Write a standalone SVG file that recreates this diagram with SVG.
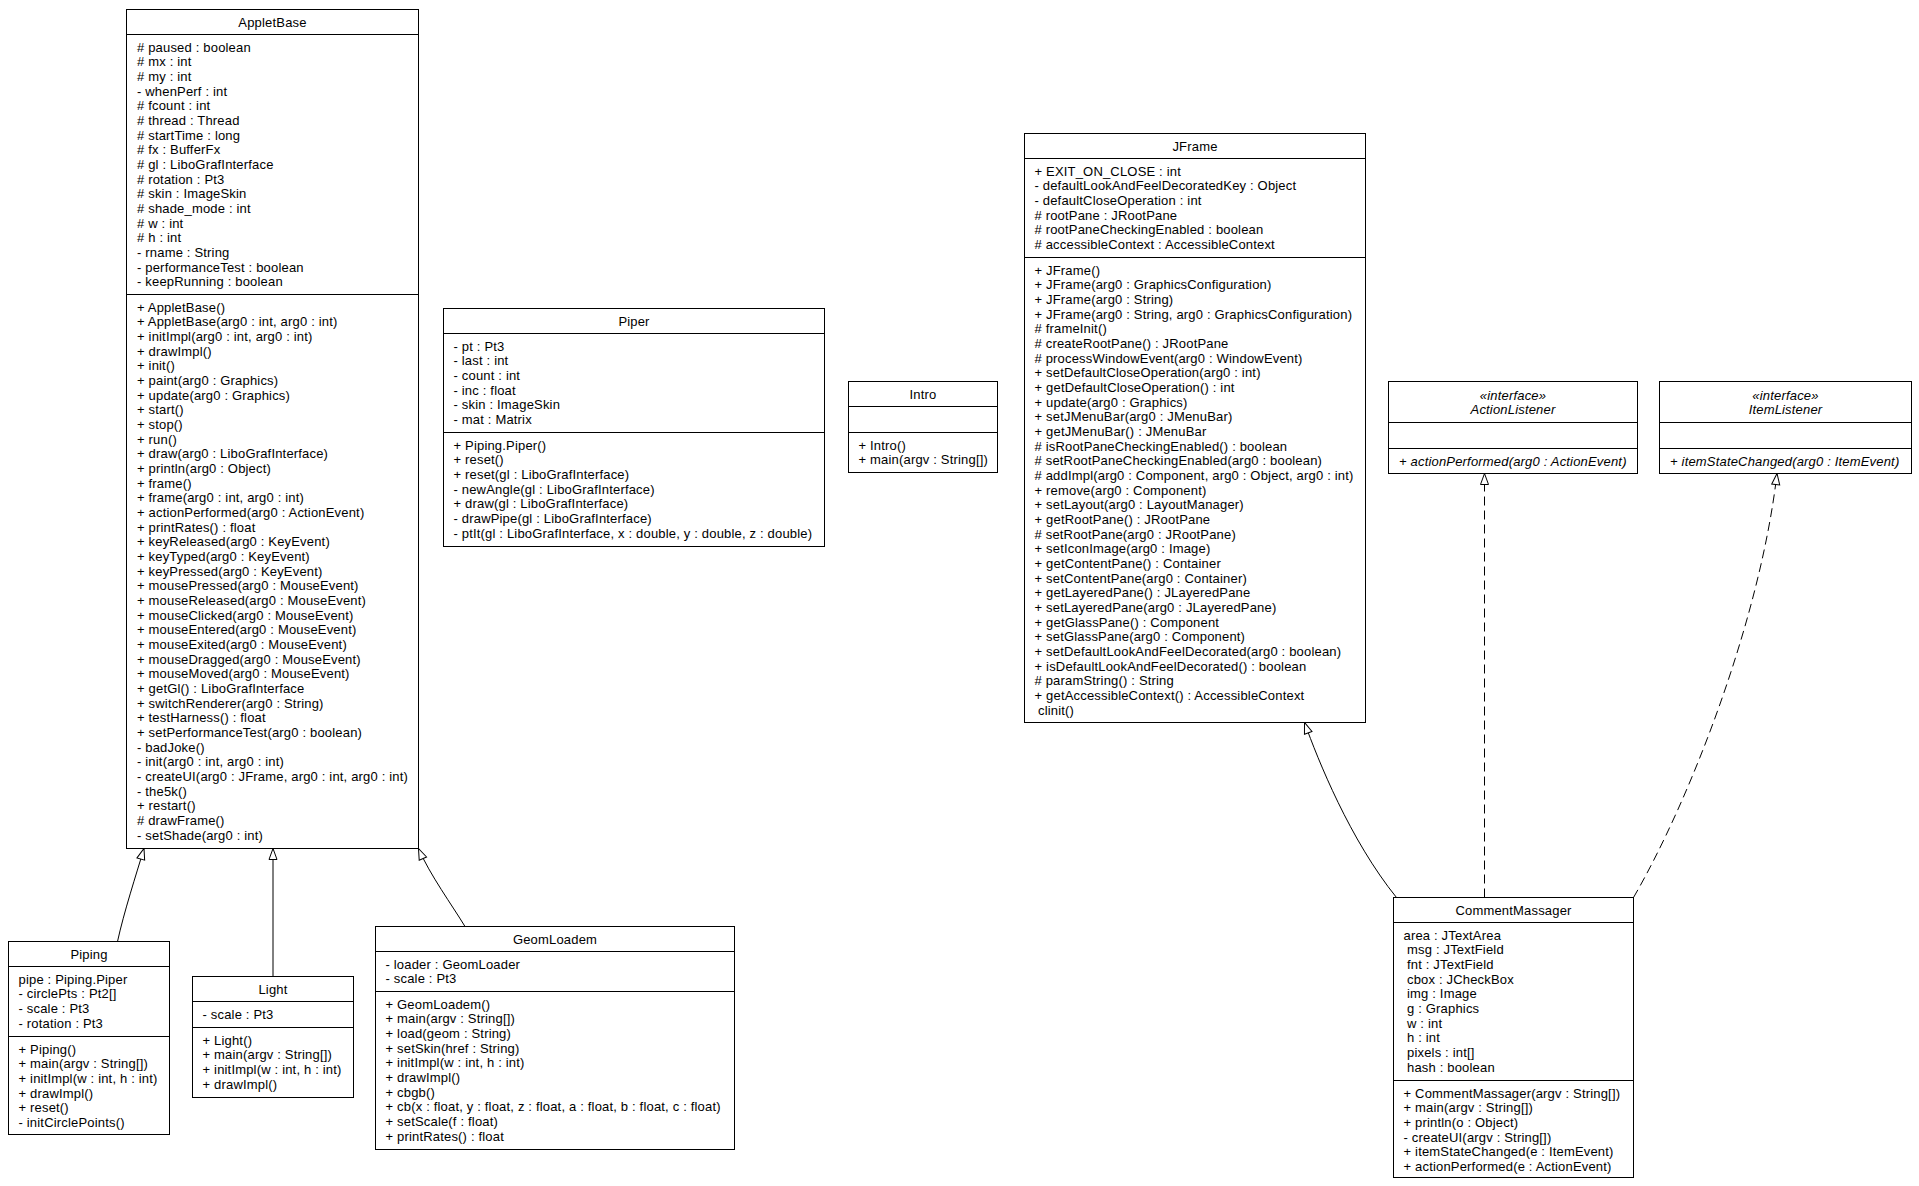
<svg xmlns="http://www.w3.org/2000/svg" width="1919" height="1186" viewBox="0 0 1919 1186">
<style>
text{font-family:"Liberation Sans",Arial,Helvetica,sans-serif;font-size:13px;fill:#000;letter-spacing:0.18px}
.c{text-anchor:middle}
.i{font-style:italic}
.box{fill:#fff;stroke:#000;stroke-width:1}
.sep{stroke:#000;stroke-width:1}
.edge{fill:none;stroke:#000;stroke-width:1}
.dash{stroke-dasharray:9,5}
</style>
<defs>
<marker id="gen" markerUnits="userSpaceOnUse" markerWidth="16" markerHeight="12" refX="12" refY="5" orient="auto" overflow="visible">
<path d="M1,1 L12,5 L1,9 Z" fill="#fff" stroke="#000" stroke-width="1" stroke-dasharray="none"/>
</marker>
</defs>
<rect width="1919" height="1186" fill="#fff"/>

<g id="connectors">
<path class="edge" d="M117.5,941.5 C124,912 136,875 144,848.5" marker-end="url(#gen)"/>
<path class="edge" d="M273,976.5 L273,848.5" marker-end="url(#gen)"/>
<path class="edge" d="M465,926.5 C452,905 430,875 418.5,848.5" marker-end="url(#gen)"/>
<path class="edge" d="M1396.5,897.5 C1350,840 1318,760 1304.5,722.5" marker-end="url(#gen)"/>
<path class="edge dash" d="M1484.5,897.5 L1484.5,473.5" marker-end="url(#gen)"/>
<path class="edge dash" d="M1633.5,897.5 C1690,800 1760,620 1777,473.5" marker-end="url(#gen)"/>
</g>

<g id="AppletBase">
<rect class="box" x="126.5" y="9.5" width="292" height="839"/>
<line class="sep" x1="126.5" y1="34.5" x2="418.5" y2="34.5"/>
<line class="sep" x1="126.5" y1="294.5" x2="418.5" y2="294.5"/>
<text class="c" x="272.5" y="26.8">AppletBase</text>
<text y="37.14">
<tspan x="137" dy="14.66"># paused : boolean</tspan>
<tspan x="137" dy="14.66"># mx : int</tspan>
<tspan x="137" dy="14.66"># my : int</tspan>
<tspan x="137" dy="14.66">- whenPerf : int</tspan>
<tspan x="137" dy="14.66"># fcount : int</tspan>
<tspan x="137" dy="14.66"># thread : Thread</tspan>
<tspan x="137" dy="14.66"># startTime : long</tspan>
<tspan x="137" dy="14.66"># fx : BufferFx</tspan>
<tspan x="137" dy="14.66"># gl : LiboGrafInterface</tspan>
<tspan x="137" dy="14.66"># rotation : Pt3</tspan>
<tspan x="137" dy="14.66"># skin : ImageSkin</tspan>
<tspan x="137" dy="14.66"># shade_mode : int</tspan>
<tspan x="137" dy="14.66"># w : int</tspan>
<tspan x="137" dy="14.66"># h : int</tspan>
<tspan x="137" dy="14.66">- rname : String</tspan>
<tspan x="137" dy="14.66">- performanceTest : boolean</tspan>
<tspan x="137" dy="14.66">- keepRunning : boolean</tspan>
</text>
<text y="297.14">
<tspan x="137" dy="14.66">+ AppletBase()</tspan>
<tspan x="137" dy="14.66">+ AppletBase(arg0 : int, arg0 : int)</tspan>
<tspan x="137" dy="14.66">+ initImpl(arg0 : int, arg0 : int)</tspan>
<tspan x="137" dy="14.66">+ drawImpl()</tspan>
<tspan x="137" dy="14.66">+ init()</tspan>
<tspan x="137" dy="14.66">+ paint(arg0 : Graphics)</tspan>
<tspan x="137" dy="14.66">+ update(arg0 : Graphics)</tspan>
<tspan x="137" dy="14.66">+ start()</tspan>
<tspan x="137" dy="14.66">+ stop()</tspan>
<tspan x="137" dy="14.66">+ run()</tspan>
<tspan x="137" dy="14.66">+ draw(arg0 : LiboGrafInterface)</tspan>
<tspan x="137" dy="14.66">+ println(arg0 : Object)</tspan>
<tspan x="137" dy="14.66">+ frame()</tspan>
<tspan x="137" dy="14.66">+ frame(arg0 : int, arg0 : int)</tspan>
<tspan x="137" dy="14.66">+ actionPerformed(arg0 : ActionEvent)</tspan>
<tspan x="137" dy="14.66">+ printRates() : float</tspan>
<tspan x="137" dy="14.66">+ keyReleased(arg0 : KeyEvent)</tspan>
<tspan x="137" dy="14.66">+ keyTyped(arg0 : KeyEvent)</tspan>
<tspan x="137" dy="14.66">+ keyPressed(arg0 : KeyEvent)</tspan>
<tspan x="137" dy="14.66">+ mousePressed(arg0 : MouseEvent)</tspan>
<tspan x="137" dy="14.66">+ mouseReleased(arg0 : MouseEvent)</tspan>
<tspan x="137" dy="14.66">+ mouseClicked(arg0 : MouseEvent)</tspan>
<tspan x="137" dy="14.66">+ mouseEntered(arg0 : MouseEvent)</tspan>
<tspan x="137" dy="14.66">+ mouseExited(arg0 : MouseEvent)</tspan>
<tspan x="137" dy="14.66">+ mouseDragged(arg0 : MouseEvent)</tspan>
<tspan x="137" dy="14.66">+ mouseMoved(arg0 : MouseEvent)</tspan>
<tspan x="137" dy="14.66">+ getGl() : LiboGrafInterface</tspan>
<tspan x="137" dy="14.66">+ switchRenderer(arg0 : String)</tspan>
<tspan x="137" dy="14.66">+ testHarness() : float</tspan>
<tspan x="137" dy="14.66">+ setPerformanceTest(arg0 : boolean)</tspan>
<tspan x="137" dy="14.66">- badJoke()</tspan>
<tspan x="137" dy="14.66">- init(arg0 : int, arg0 : int)</tspan>
<tspan x="137" dy="14.66">- createUI(arg0 : JFrame, arg0 : int, arg0 : int)</tspan>
<tspan x="137" dy="14.66">- the5k()</tspan>
<tspan x="137" dy="14.66">+ restart()</tspan>
<tspan x="137" dy="14.66"># drawFrame()</tspan>
<tspan x="137" dy="14.66">- setShade(arg0 : int)</tspan>
</text>
</g>

<g id="Piping">
<rect class="box" x="8.5" y="941.5" width="161" height="193"/>
<line class="sep" x1="8.5" y1="966.5" x2="169.5" y2="966.5"/>
<line class="sep" x1="8.5" y1="1036.5" x2="169.5" y2="1036.5"/>
<text class="c" x="89" y="958.8">Piping</text>
<text y="969.14">
<tspan x="18.5" dy="14.66">pipe : Piping.Piper</tspan>
<tspan x="18.5" dy="14.66">- circlePts : Pt2[]</tspan>
<tspan x="18.5" dy="14.66">- scale : Pt3</tspan>
<tspan x="18.5" dy="14.66">- rotation : Pt3</tspan>
</text>
<text y="1039.14">
<tspan x="18.5" dy="14.66">+ Piping()</tspan>
<tspan x="18.5" dy="14.66">+ main(argv : String[])</tspan>
<tspan x="18.5" dy="14.66">+ initImpl(w : int, h : int)</tspan>
<tspan x="18.5" dy="14.66">+ drawImpl()</tspan>
<tspan x="18.5" dy="14.66">+ reset()</tspan>
<tspan x="18.5" dy="14.66">- initCirclePoints()</tspan>
</text>
</g>

<g id="Light">
<rect class="box" x="192.5" y="976.5" width="161" height="121"/>
<line class="sep" x1="192.5" y1="1001.5" x2="353.5" y2="1001.5"/>
<line class="sep" x1="192.5" y1="1027.5" x2="353.5" y2="1027.5"/>
<text class="c" x="273" y="993.8">Light</text>
<text x="202.5" y="1018.8">- scale : Pt3</text>
<text y="1030.14">
<tspan x="202.5" dy="14.66">+ Light()</tspan>
<tspan x="202.5" dy="14.66">+ main(argv : String[])</tspan>
<tspan x="202.5" dy="14.66">+ initImpl(w : int, h : int)</tspan>
<tspan x="202.5" dy="14.66">+ drawImpl()</tspan>
</text>
</g>

<g id="GeomLoadem">
<rect class="box" x="375.5" y="926.5" width="359" height="223"/>
<line class="sep" x1="375.5" y1="951.5" x2="734.5" y2="951.5"/>
<line class="sep" x1="375.5" y1="991.5" x2="734.5" y2="991.5"/>
<text class="c" x="555" y="943.8">GeomLoadem</text>
<text y="954.14">
<tspan x="385.5" dy="14.66">- loader : GeomLoader</tspan>
<tspan x="385.5" dy="14.66">- scale : Pt3</tspan>
</text>
<text y="994.14">
<tspan x="385.5" dy="14.66">+ GeomLoadem()</tspan>
<tspan x="385.5" dy="14.66">+ main(argv : String[])</tspan>
<tspan x="385.5" dy="14.66">+ load(geom : String)</tspan>
<tspan x="385.5" dy="14.66">+ setSkin(href : String)</tspan>
<tspan x="385.5" dy="14.66">+ initImpl(w : int, h : int)</tspan>
<tspan x="385.5" dy="14.66">+ drawImpl()</tspan>
<tspan x="385.5" dy="14.66">+ cbgb()</tspan>
<tspan x="385.5" dy="14.66">+ cb(x : float, y : float, z : float, a : float, b : float, c : float)</tspan>
<tspan x="385.5" dy="14.66">+ setScale(f : float)</tspan>
<tspan x="385.5" dy="14.66">+ printRates() : float</tspan>
</text>
</g>

<g id="Piper">
<rect class="box" x="443.5" y="308.5" width="381" height="238"/>
<line class="sep" x1="443.5" y1="333.5" x2="824.5" y2="333.5"/>
<line class="sep" x1="443.5" y1="432.5" x2="824.5" y2="432.5"/>
<text class="c" x="634" y="325.8">Piper</text>
<text y="336.14">
<tspan x="453.5" dy="14.66">- pt : Pt3</tspan>
<tspan x="453.5" dy="14.66">- last : int</tspan>
<tspan x="453.5" dy="14.66">- count : int</tspan>
<tspan x="453.5" dy="14.66">- inc : float</tspan>
<tspan x="453.5" dy="14.66">- skin : ImageSkin</tspan>
<tspan x="453.5" dy="14.66">- mat : Matrix</tspan>
</text>
<text y="435.14">
<tspan x="453.5" dy="14.66">+ Piping.Piper()</tspan>
<tspan x="453.5" dy="14.66">+ reset()</tspan>
<tspan x="453.5" dy="14.66">+ reset(gl : LiboGrafInterface)</tspan>
<tspan x="453.5" dy="14.66">- newAngle(gl : LiboGrafInterface)</tspan>
<tspan x="453.5" dy="14.66">+ draw(gl : LiboGrafInterface)</tspan>
<tspan x="453.5" dy="14.66">- drawPipe(gl : LiboGrafInterface)</tspan>
<tspan x="453.5" dy="14.66">- ptIt(gl : LiboGrafInterface, x : double, y : double, z : double)</tspan>
</text>
</g>

<g id="Intro">
<rect class="box" x="848.5" y="381.5" width="149" height="91"/>
<line class="sep" x1="848.5" y1="406.5" x2="997.5" y2="406.5"/>
<line class="sep" x1="848.5" y1="432.5" x2="997.5" y2="432.5"/>
<text class="c" x="923" y="398.8">Intro</text>
<text y="435.14">
<tspan x="858.5" dy="14.66">+ Intro()</tspan>
<tspan x="858.5" dy="14.66">+ main(argv : String[])</tspan>
</text>
</g>

<g id="JFrame">
<rect class="box" x="1024.5" y="133.5" width="341" height="589"/>
<line class="sep" x1="1024.5" y1="158.5" x2="1365.5" y2="158.5"/>
<line class="sep" x1="1024.5" y1="257.5" x2="1365.5" y2="257.5"/>
<text class="c" x="1195" y="150.8">JFrame</text>
<text y="161.14">
<tspan x="1034.5" dy="14.66">+ EXIT_ON_CLOSE : int</tspan>
<tspan x="1034.5" dy="14.66">- defaultLookAndFeelDecoratedKey : Object</tspan>
<tspan x="1034.5" dy="14.66">- defaultCloseOperation : int</tspan>
<tspan x="1034.5" dy="14.66"># rootPane : JRootPane</tspan>
<tspan x="1034.5" dy="14.66"># rootPaneCheckingEnabled : boolean</tspan>
<tspan x="1034.5" dy="14.66"># accessibleContext : AccessibleContext</tspan>
</text>
<text y="260.14">
<tspan x="1034.5" dy="14.66">+ JFrame()</tspan>
<tspan x="1034.5" dy="14.66">+ JFrame(arg0 : GraphicsConfiguration)</tspan>
<tspan x="1034.5" dy="14.66">+ JFrame(arg0 : String)</tspan>
<tspan x="1034.5" dy="14.66">+ JFrame(arg0 : String, arg0 : GraphicsConfiguration)</tspan>
<tspan x="1034.5" dy="14.66"># frameInit()</tspan>
<tspan x="1034.5" dy="14.66"># createRootPane() : JRootPane</tspan>
<tspan x="1034.5" dy="14.66"># processWindowEvent(arg0 : WindowEvent)</tspan>
<tspan x="1034.5" dy="14.66">+ setDefaultCloseOperation(arg0 : int)</tspan>
<tspan x="1034.5" dy="14.66">+ getDefaultCloseOperation() : int</tspan>
<tspan x="1034.5" dy="14.66">+ update(arg0 : Graphics)</tspan>
<tspan x="1034.5" dy="14.66">+ setJMenuBar(arg0 : JMenuBar)</tspan>
<tspan x="1034.5" dy="14.66">+ getJMenuBar() : JMenuBar</tspan>
<tspan x="1034.5" dy="14.66"># isRootPaneCheckingEnabled() : boolean</tspan>
<tspan x="1034.5" dy="14.66"># setRootPaneCheckingEnabled(arg0 : boolean)</tspan>
<tspan x="1034.5" dy="14.66"># addImpl(arg0 : Component, arg0 : Object, arg0 : int)</tspan>
<tspan x="1034.5" dy="14.66">+ remove(arg0 : Component)</tspan>
<tspan x="1034.5" dy="14.66">+ setLayout(arg0 : LayoutManager)</tspan>
<tspan x="1034.5" dy="14.66">+ getRootPane() : JRootPane</tspan>
<tspan x="1034.5" dy="14.66"># setRootPane(arg0 : JRootPane)</tspan>
<tspan x="1034.5" dy="14.66">+ setIconImage(arg0 : Image)</tspan>
<tspan x="1034.5" dy="14.66">+ getContentPane() : Container</tspan>
<tspan x="1034.5" dy="14.66">+ setContentPane(arg0 : Container)</tspan>
<tspan x="1034.5" dy="14.66">+ getLayeredPane() : JLayeredPane</tspan>
<tspan x="1034.5" dy="14.66">+ setLayeredPane(arg0 : JLayeredPane)</tspan>
<tspan x="1034.5" dy="14.66">+ getGlassPane() : Component</tspan>
<tspan x="1034.5" dy="14.66">+ setGlassPane(arg0 : Component)</tspan>
<tspan x="1034.5" dy="14.66">+ setDefaultLookAndFeelDecorated(arg0 : boolean)</tspan>
<tspan x="1034.5" dy="14.66">+ isDefaultLookAndFeelDecorated() : boolean</tspan>
<tspan x="1034.5" dy="14.66"># paramString() : String</tspan>
<tspan x="1034.5" dy="14.66">+ getAccessibleContext() : AccessibleContext</tspan>
<tspan x="1038" dy="14.66">clinit()</tspan>
</text>
</g>

<g id="ActionListener">
<rect class="box" x="1388.5" y="381.5" width="249" height="92"/>
<line class="sep" x1="1388.5" y1="422.5" x2="1637.5" y2="422.5"/>
<line class="sep" x1="1388.5" y1="448.5" x2="1637.5" y2="448.5"/>
<text class="c i" x="1513" y="400">«interface»</text>
<text class="c i" x="1513" y="414">ActionListener</text>
<text class="i" x="1399" y="465.5">+ actionPerformed(arg0 : ActionEvent)</text>
</g>

<g id="ItemListener">
<rect class="box" x="1659.5" y="381.5" width="252" height="92"/>
<line class="sep" x1="1659.5" y1="422.5" x2="1911.5" y2="422.5"/>
<line class="sep" x1="1659.5" y1="448.5" x2="1911.5" y2="448.5"/>
<text class="c i" x="1785.5" y="400">«interface»</text>
<text class="c i" x="1785.5" y="414">ItemListener</text>
<text class="i" x="1670" y="465.5">+ itemStateChanged(arg0 : ItemEvent)</text>
</g>

<g id="CommentMassager">
<rect class="box" x="1393.5" y="897.5" width="240" height="280"/>
<line class="sep" x1="1393.5" y1="922.5" x2="1633.5" y2="922.5"/>
<line class="sep" x1="1393.5" y1="1080.5" x2="1633.5" y2="1080.5"/>
<text class="c" x="1513.5" y="914.8">CommentMassager</text>
<text y="925.14">
<tspan x="1403.5" dy="14.66">area : JTextArea</tspan>
<tspan x="1407" dy="14.66">msg : JTextField</tspan>
<tspan x="1407" dy="14.66">fnt : JTextField</tspan>
<tspan x="1407" dy="14.66">cbox : JCheckBox</tspan>
<tspan x="1407" dy="14.66">img : Image</tspan>
<tspan x="1407" dy="14.66">g : Graphics</tspan>
<tspan x="1407" dy="14.66">w : int</tspan>
<tspan x="1407" dy="14.66">h : int</tspan>
<tspan x="1407" dy="14.66">pixels : int[]</tspan>
<tspan x="1407" dy="14.66">hash : boolean</tspan>
</text>
<text y="1083.14">
<tspan x="1403.5" dy="14.66">+ CommentMassager(argv : String[])</tspan>
<tspan x="1403.5" dy="14.66">+ main(argv : String[])</tspan>
<tspan x="1403.5" dy="14.66">+ println(o : Object)</tspan>
<tspan x="1403.5" dy="14.66">- createUI(argv : String[])</tspan>
<tspan x="1403.5" dy="14.66">+ itemStateChanged(e : ItemEvent)</tspan>
<tspan x="1403.5" dy="14.66">+ actionPerformed(e : ActionEvent)</tspan>
</text>
</g>
</svg>
